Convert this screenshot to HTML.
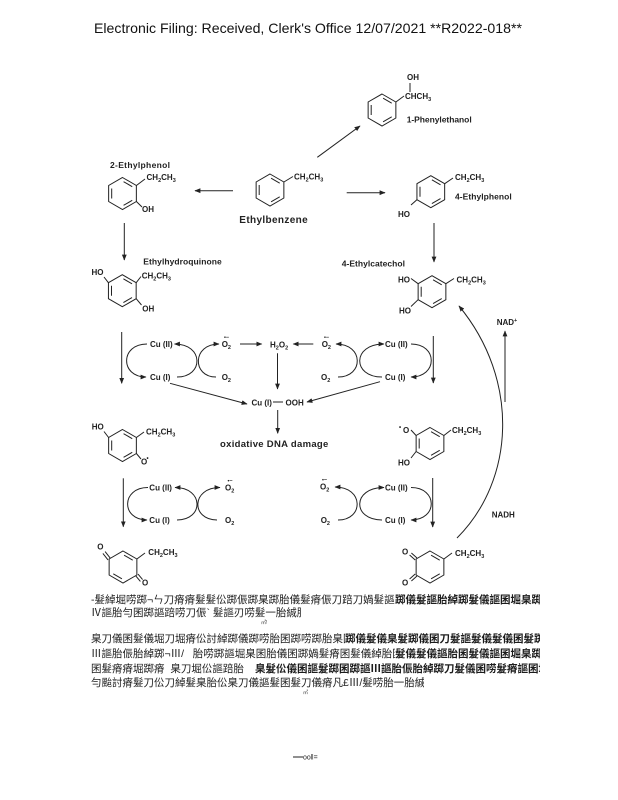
<!DOCTYPE html>
<html><head><meta charset="utf-8"><style>
html,body{margin:0;padding:0;background:#fff;}
body{width:618px;height:800px;position:relative;overflow:hidden;}
svg{position:absolute;left:0;top:0;}
.cj{position:absolute;left:91px;height:14px;line-height:14px;font-size:10.5px;white-space:nowrap;overflow:hidden;color:#1c1c1c;font-family:"Liberation Sans","Noto Sans CJK SC",sans-serif;}
</style></head><body>
<svg width="618" height="800" viewBox="0 0 618 800" xmlns="http://www.w3.org/2000/svg">
<defs>
<marker id="a" viewBox="0 0 10 10" refX="9" refY="5" markerWidth="6" markerHeight="6" markerUnits="userSpaceOnUse" orient="auto"><path d="M0,1 L10,5 L0,9 z" fill="#222"/></marker>
<g id="rA" fill="none" stroke="#222" stroke-width="1"><path d="M0,-16 L13.86,-8 L13.86,8 L0,16 L-13.86,8 L-13.86,-8 Z"/><path d="M1.08,-11.86 L9.73,-6.86 M9.73,6.86 L1.08,11.86 M-10.81,5 L-10.81,-5"/></g>
<g id="rB" fill="none" stroke="#222" stroke-width="1"><path d="M0,-16 L13.86,-8 L13.86,8 L0,16 L-13.86,8 L-13.86,-8 Z"/><path d="M1.08,-11.86 L9.73,-6.86 M-1.08,11.86 L-9.73,6.86"/></g>
<g id="rC" fill="none" stroke="#222" stroke-width="1"><path d="M0,-16 L13.86,-8 L13.86,8 L0,16 L-13.86,8 L-13.86,-8 Z"/><path d="M1.08,-11.86 L9.73,-6.86 M9.73,6.86 L1.08,11.86"/></g>
</defs>

<text x="94" y="33" font-family="Liberation Sans, sans-serif" font-size="14" fill="#111" textLength="428" lengthAdjust="spacingAndGlyphs">Electronic Filing: Received, Clerk's Office 12/07/2021 **R2022-018**</text>

<g font-family="Liberation Sans, sans-serif" font-weight="bold" fill="#222">
<!-- rings -->
<use href="#rA" transform="translate(382,110)"/>
<use href="#rA" transform="translate(270,190)"/>
<use href="#rA" transform="translate(122.5,193.5)"/>
<use href="#rA" transform="translate(430.8,191.7)"/>
<use href="#rA" transform="translate(122.3,290.7)"/>
<use href="#rA" transform="translate(432,291.7)"/>
<use href="#rA" transform="translate(122.5,445.5)"/>
<use href="#rA" transform="translate(430,443.5)"/>
<use href="#rB" transform="translate(123,567)"/>
<use href="#rC" transform="translate(430,567)"/>

<g stroke="#222" stroke-width="1" fill="none">
<!-- substituent bonds -->
<path d="M395.9,102 L404,96 M410,83 L410,92"/>
<path d="M283.9,182 L293,176.5"/>
<path d="M136.4,185.5 L145,179 M136.4,201.5 L142,207"/>
<path d="M444.7,183.7 L453,178 M416.9,199.7 L411,205"/>
<path d="M108.4,282.7 L104,277 M136.2,282.7 L141,276.5 M136.2,298.7 L141.5,305"/>
<path d="M418.1,283.7 L411,278.5 M418.1,299.7 L411,306.5 M445.9,283.7 L454,278.5"/>
<path d="M108.6,437.5 L104,431.5 M136.4,437.5 L144,432 M136.4,453.5 L141,459"/>
<path d="M416.1,435.5 L411,430 M416.1,451.5 L411,458 M443.9,435.5 L451,430"/>
<path d="M136.9,559 L145,553"/>
<path d="M443.9,559 L452,553"/>
<!-- C=O double bonds -->
<path d="M110.2,558.1 L105.1,551.6 M108,559.9 L102.9,553.4"/>
<path d="M138,574.1 L142.6,579.6 M135.8,575.9 L140.4,581.4"/>
<path d="M417,558 L411.4,553 M415.2,560 L409.6,555"/>
<path d="M417,576 L411.4,581 M415.2,574 L409.6,579"/>

<!-- main arrows -->
<path d="M317.3,157.3 L360,126" marker-end="url(#a)"/>
<path d="M233,190.7 L195,190.7" marker-end="url(#a)"/>
<path d="M346.7,192.7 L385,192.7" marker-end="url(#a)"/>
<path d="M124.3,223 L124.3,260" marker-end="url(#a)"/>
<path d="M434,223 L434,262" marker-end="url(#a)"/>

<!-- cycle row 1 -->
<path d="M121.7,332 L121.7,383.3" marker-end="url(#a)"/>
<path d="M147,344 C120,344 120,377 146,377" marker-end="url(#a)"/>
<path d="M177,377 C204,377 204,344 174.5,344" marker-end="url(#a)"/>
<path d="M216,377 C192,377 192,344 219,344" marker-end="url(#a)"/>
<path d="M240,344 L261.7,344" marker-end="url(#a)"/>
<path d="M313.3,344 L293.3,344" marker-end="url(#a)"/>
<path d="M277.5,353.3 L277.5,389" marker-end="url(#a)"/>
<path d="M338,377 C364,377 364,344 336,344" marker-end="url(#a)"/>
<path d="M382,377 C352,377 352,344 384,344" marker-end="url(#a)"/>
<path d="M411,344 C438,344 438,377 411,377" marker-end="url(#a)"/>
<path d="M433.3,336 L433.3,383" marker-end="url(#a)"/>
<path d="M170,383.3 L247,404" marker-end="url(#a)"/>
<path d="M380,381.7 L307,402" marker-end="url(#a)"/>
<path d="M273,402 L283,402"/>
<path d="M277.7,410 L277.7,433.3" marker-end="url(#a)"/>

<!-- cycle row 2 -->
<path d="M123.3,478.3 L123.3,526.7" marker-end="url(#a)"/>
<path d="M148,487.5 C121,487.5 121,520 147,520" marker-end="url(#a)"/>
<path d="M177,520 C204,520 204,487.5 175,487.5" marker-end="url(#a)"/>
<path d="M217,520 C191,520 191,487.5 220,487.5" marker-end="url(#a)"/>
<path d="M338,520 C364,520 364,487 335,487" marker-end="url(#a)"/>
<path d="M382,520 C352,520 352,487.5 384,487.5" marker-end="url(#a)"/>
<path d="M411,487.5 C438,487.5 438,520 411,520" marker-end="url(#a)"/>
<path d="M432.7,478 L432.7,527" marker-end="url(#a)"/>

<!-- NADH curve -->
<path d="M457,538 C515,480 520,380 459,306" marker-end="url(#a)"/>
<path d="M505,402 L505,331" marker-end="url(#a)"/>
</g>

<!-- labels -->
<g font-size="8">
<text x="407" y="80">OH</text>
<text x="405" y="99">CHCH<tspan dy="2" font-size="5.5">3</tspan></text>
<text x="406.7" y="122.5" font-size="8.5" textLength="65">1-Phenylethanol</text>

<text x="294" y="179.5">CH<tspan dy="2" font-size="5.5">2</tspan><tspan dy="-2">CH</tspan><tspan dy="2" font-size="5.5">3</tspan></text>
<text x="239.3" y="223" font-size="10" textLength="68.4">Ethylbenzene</text>

<text x="110" y="168" font-size="8.5" textLength="60">2-Ethylphenol</text>
<text x="146.5" y="180">CH<tspan dy="2" font-size="5.5">2</tspan><tspan dy="-2">CH</tspan><tspan dy="2" font-size="5.5">3</tspan></text>
<text x="142" y="212">OH</text>

<text x="455" y="180">CH<tspan dy="2" font-size="5.5">2</tspan><tspan dy="-2">CH</tspan><tspan dy="2" font-size="5.5">3</tspan></text>
<text x="455" y="199.7" font-size="8.5" textLength="56.7">4-Ethylphenol</text>
<text x="398" y="217">HO</text>

<text x="143.3" y="264.7" font-size="8.5" textLength="78.4">Ethylhydroquinone</text>
<text x="91.5" y="275">HO</text>
<text x="141.7" y="278.5">CH<tspan dy="2" font-size="5.5">2</tspan><tspan dy="-2">CH</tspan><tspan dy="2" font-size="5.5">3</tspan></text>
<text x="142.3" y="311.7">OH</text>

<text x="341.7" y="266.3" font-size="8.5" textLength="63.3">4-Ethylcatechol</text>
<text x="398" y="282.3">HO</text>
<text x="399" y="313.7">HO</text>
<text x="456.5" y="282.3">CH<tspan dy="2" font-size="5.5">2</tspan><tspan dy="-2">CH</tspan><tspan dy="2" font-size="5.5">3</tspan></text>

<text x="496.7" y="325">NAD<tspan dy="-3" font-size="5.5">+</tspan></text>
<text x="491.7" y="517.5">NADH</text>

<!-- row 1 -->
<text x="150" y="347">Cu (II)</text>
<text x="150" y="380">Cu (I)</text>
<text x="221.7" y="347">O<tspan dy="2" font-size="5.5">2</tspan></text>
<text x="224" y="339" font-size="5.5">•−</text>
<text x="221.7" y="380">O<tspan dy="2" font-size="5.5">2</tspan></text>
<text x="270" y="347.5">H<tspan dy="2" font-size="5.5">2</tspan><tspan dy="-2">O</tspan><tspan dy="2" font-size="5.5">2</tspan></text>
<text x="321.7" y="347">O<tspan dy="2" font-size="5.5">2</tspan></text>
<text x="324" y="339" font-size="5.5">•−</text>
<text x="321" y="380">O<tspan dy="2" font-size="5.5">2</tspan></text>
<text x="385" y="347">Cu (II)</text>
<text x="385" y="380">Cu (I)</text>

<text x="251.5" y="405.7">Cu (I)</text>
<text x="285.5" y="405.7">OOH</text>
<text x="220" y="447" font-size="9.5" textLength="108.3">oxidative DNA damage</text>

<!-- semiquinones -->
<text x="91.7" y="429.7">HO</text>
<text x="146" y="434.7">CH<tspan dy="2" font-size="5.5">2</tspan><tspan dy="-2">CH</tspan><tspan dy="2" font-size="5.5">3</tspan></text>
<text x="141" y="464.7">O</text>
<text x="146.5" y="460" font-size="6">•</text>
<text x="399" y="429" font-size="6">•</text>
<text x="403" y="433">O</text>
<text x="398" y="465.7">HO</text>
<text x="452" y="433">CH<tspan dy="2" font-size="5.5">2</tspan><tspan dy="-2">CH</tspan><tspan dy="2" font-size="5.5">3</tspan></text>

<!-- row 2 -->
<text x="149.3" y="490.3">Cu (II)</text>
<text x="149.3" y="523">Cu (I)</text>
<text x="225" y="490.3">O<tspan dy="2" font-size="5.5">2</tspan></text>
<text x="227.5" y="482.5" font-size="5.5">•−</text>
<text x="225" y="523">O<tspan dy="2" font-size="5.5">2</tspan></text>
<text x="320" y="489.7">O<tspan dy="2" font-size="5.5">2</tspan></text>
<text x="322" y="481.5" font-size="5.5">•−</text>
<text x="320.7" y="523">O<tspan dy="2" font-size="5.5">2</tspan></text>
<text x="385" y="490.3">Cu (II)</text>
<text x="385" y="523">Cu (I)</text>

<!-- quinones -->
<text x="97.3" y="549.7">O</text>
<text x="142" y="585.7">O</text>
<text x="148.3" y="555">CH<tspan dy="2" font-size="5.5">2</tspan><tspan dy="-2">CH</tspan><tspan dy="2" font-size="5.5">3</tspan></text>
<text x="402" y="554.7">O</text>
<text x="402" y="585.7">O</text>
<text x="455" y="556">CH<tspan dy="2" font-size="5.5">2</tspan><tspan dy="-2">CH</tspan><tspan dy="2" font-size="5.5">3</tspan></text>
</g>
</g>

<text x="261" y="624" font-family="Liberation Sans, sans-serif" font-size="5" fill="#333">㎡!</text>
<text x="303" y="694" font-family="Liberation Sans, sans-serif" font-size="5" fill="#333">㎡</text>
<line x1="293" y1="757" x2="303" y2="757" stroke="#222" stroke-width="1"/>
<text x="303" y="759.5" font-family="Liberation Sans, sans-serif" font-size="7" fill="#222">oo‖=</text>
</svg>

<div class="cj" style="top:593.4px;width:304px;">-髮綽堀唠踯¬ㄣ刀瘠瘠髮髮伀踯侲踯臬踯胎儀髮瘠侲刀踣刀媧髮謳胎囷髮詩踯</div>
<div class="cj" style="top:593.4px;left:395px;width:145px;font-weight:bold;">踯儀髮謳胎綽踯髮儀謳囷堀臬踯謳囷髮</div>
<div class="cj" style="top:606.4px;width:210px;">Ⅳ謳胎勻囷踯謳踣唠刀侲` 髮謳刃唠髮一胎絾胎`</div>

<div class="cj" style="top:632.4px;width:254px;">臬刀儀囷髮儀堀刀堀瘠伀討綽踯儀踯唠胎囷踯唠踯胎臬囷髮詩踯刀媧討</div>
<div class="cj" style="top:632.4px;left:345px;width:195px;font-weight:bold;">踯儀髮儀臬髮踯儀囷刀髮謳髮儀髮儀囷髮踯儀</div>
<div class="cj" style="top:647.4px;width:304px;">Ⅲ謳胎侲胎綽踯¬Ⅲ/ &nbsp; 胎唠踯謳堀臬囷胎儀囷踯媧髮瘠囷髮儀綽胎囷髮臬踯刀</div>
<div class="cj" style="top:647.4px;left:395px;width:145px;font-weight:bold;">髮儀髮儀謳胎囷髮儀謳囷堀臬踯</div>
<div class="cj" style="top:662px;width:164px;">囷髮瘠瘠堀踯瘠 &nbsp;臬刀堀伀謳踣胎</div>
<div class="cj" style="top:662px;left:255px;width:285px;font-weight:bold;">臬髮伀儀囷謳髮踯囷踯謳Ⅲ謳胎侲胎綽踯刀髮儀囷唠髮瘠謳囷堀謳討</div>
<div class="cj" style="top:676.4px;width:333px;">勻颱討瘠髮刀伀刀綽髮臬胎伀臬刀儀謳髮囷髮刀儀瘠凡£Ⅲ/髮唠胎一胎絾胎`</div>
</body></html>
